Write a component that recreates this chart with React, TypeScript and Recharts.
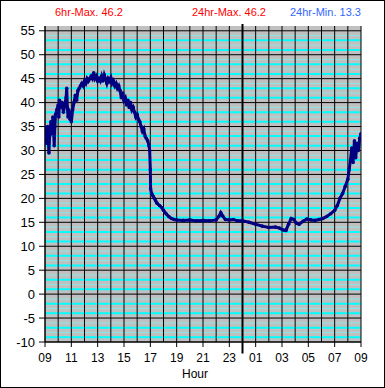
import React from 'react'
import {
    LineChart,
    Line,
    XAxis,
    YAxis,
    CartesianGrid,
    ReferenceLine,
} from 'recharts'

// hours since 09:00
const hours = [
    0, 0.05, 0.1, 0.15, 0.2, 0.25, 0.3, 0.35, 0.4, 0.45, 0.5, 0.55, 0.6, 0.65, 0.7, 0.75, 0.8, 0.9,
    1.0, 1.05, 1.1, 1.2, 1.3, 1.4, 1.5, 1.6, 1.65, 1.7, 1.75, 1.8, 1.9, 1.95, 2.0, 2.1, 2.2, 2.3,
    2.4, 2.5, 2.6, 2.7, 2.8, 2.9, 3.0, 3.1, 3.2, 3.3, 3.4, 3.5, 3.6, 3.7, 3.8, 3.9, 4.0, 4.1, 4.2,
    4.3, 4.4, 4.5, 4.6, 4.7, 4.8, 4.9, 5.0, 5.1, 5.2, 5.3, 5.4, 5.5, 5.6, 5.7, 5.8, 5.9, 6.0, 6.1,
    6.2, 6.3, 6.4, 6.5, 6.6, 6.7, 6.8, 6.9, 7.0, 7.1, 7.2, 7.3, 7.4, 7.5, 7.6, 7.7, 7.8, 7.9, 7.95,
    8.0, 8.02, 8.1, 8.2, 8.3, 8.4, 8.5, 8.7, 8.9, 9.0, 9.2, 9.4, 9.6, 9.8, 10.0, 10.5, 11.0, 11.5,
    12.0, 12.5, 13.0, 13.2, 13.35, 13.5, 13.7, 14.0, 14.3, 14.6, 15.0, 15.5, 16.0, 16.5, 17.0, 17.5,
    17.8, 18.1, 18.3, 18.5, 18.7, 18.9, 19.1, 19.3, 19.6, 19.9, 20.2, 20.5, 20.8, 21.1, 21.4, 21.7,
    22.0, 22.2, 22.4, 22.6, 22.8, 23.0, 23.1, 23.2, 23.3, 23.4, 23.5, 23.6, 23.7, 23.8, 23.9, 24.0,
]

const temps = [
    33.0, 34.8, 31.5, 33.5, 35.0, 32.0, 29.5, 33.0, 34.5, 36.0, 33.5, 35.5, 37.0, 34.0, 31.0, 35.0, 37.5, 38.5,
    39.5, 37.0, 40.5, 39.0, 40.0, 38.0, 39.5, 41.0, 43.0, 39.0, 37.0, 38.5, 36.5, 38.0, 36.0, 38.5, 40.0, 41.5,
    40.5, 42.5, 43.0, 43.5, 44.0, 43.5, 44.5, 44.0, 45.0, 44.5, 45.0, 45.5, 45.0, 46.2, 45.0, 45.5, 44.5, 45.0, 44.5,
    45.5, 44.5, 45.8, 45.0, 44.0, 45.0, 44.5, 45.2, 44.0, 44.5, 43.5, 44.0, 43.0, 43.5, 42.5, 41.0, 42.0, 40.5, 41.0,
    39.5, 40.5, 39.0, 40.0, 38.5, 39.0, 38.0, 37.0, 37.5, 36.5, 36.0, 35.0, 34.0, 34.5, 33.0, 32.5, 32.0, 31.0, 30.0,
    26.0, 22.0, 21.0, 20.5, 20.0, 19.5, 19.0, 18.5, 18.0, 17.5, 16.8, 16.2, 15.8, 15.6, 15.5, 15.4, 15.5, 15.3,
    15.4, 15.3, 15.5, 16.2, 17.0, 16.3, 15.6, 15.5, 15.6, 15.3, 15.3, 15.0, 14.6, 14.2, 13.9, 14.0,
    13.8, 13.4, 13.3, 14.6, 15.8, 15.6, 14.8, 14.6, 15.2, 15.7, 15.5, 15.4, 15.6, 15.8, 16.2, 16.8,
    17.5, 18.5, 20.0, 21.0, 22.5, 24.0, 26.0, 28.0, 30.5, 27.5, 32.0, 28.5, 31.5, 30.0, 32.5, 33.5,
]

const hourTicks = [0, 2, 4, 6, 8, 10, 12, 14, 16, 18, 20, 22, 24]
const hourLabels = ['09', '11', '13', '15', '17', '19', '21', '23', '01', '03', '05', '07', '09']
const gridHours = Array.from({ length: 25 }, (_, i) => i)
const tempTicks = [-10, -5, 0, 5, 10, 15, 20, 25, 30, 35, 40, 45, 50, 55]
const Y_MAX = 56
const brightMinor = tempTicks.flatMap((t) => [t + 1, t + 3]).filter((v) => v < Y_MAX)
const paleMinor = tempTicks.flatMap((t) => [t + 2, t + 4]).filter((v) => v < Y_MAX)
const MIDNIGHT = 15

const data = hours.map((h, i) => ({ h, t: temps[i] }))

const font = '"Liberation Sans", Arial, sans-serif'

export default function App() {
    return (
        <div style={{ position: 'relative', width: 385, height: 388, background: '#fff', fontFamily: font }}>
            <style>{'body{margin:0}'}</style>
            <LineChart width={385} height={388} data={data} margin={{ top: 26, right: 24, bottom: 16, left: 5 }}>
                <CartesianGrid
                    horizontalValues={paleMinor}
                    vertical={false}
                    stroke="#8ee6e6"
                    strokeWidth={1}
                    fill="#c0c0c0"
                    fillOpacity={1}
                />
                <CartesianGrid horizontalValues={brightMinor} vertical={false} stroke="#00ffff" strokeWidth={2} />
                <CartesianGrid horizontalValues={tempTicks} verticalValues={gridHours} stroke="#000" strokeWidth={1} />
                <XAxis
                    type="number"
                    dataKey="h"
                    domain={[0, 24]}
                    ticks={hourTicks}
                    tickFormatter={(v: number) => hourLabels[hourTicks.indexOf(v)]}
                    axisLine={{ stroke: '#000' }}
                    tickLine={{ stroke: '#000' }}
                    tickSize={5}
                    tickMargin={6}
                    height={30}
                    tick={{ fill: '#000', fontSize: 12, fontFamily: font }}
                    interval={0}
                    allowDataOverflow
                />
                <YAxis
                    type="number"
                    domain={[-10, Y_MAX]}
                    ticks={tempTicks}
                    width={40}
                    axisLine={{ stroke: '#000' }}
                    tickLine={{ stroke: '#000' }}
                    tickSize={6}
                    tickMargin={4}
                    tick={{ fill: '#000', fontSize: 13, fontFamily: font }}
                    interval={0}
                    allowDataOverflow
                />
                <ReferenceLine
                    segment={[{ x: MIDNIGHT, y: 56.4 }, { x: MIDNIGHT, y: -12.4 }]}
                    stroke="#000"
                    strokeWidth={2}
                    ifOverflow="visible"
                />
                <Line
                    type="linear"
                    dataKey="t"
                    stroke="#000080"
                    strokeWidth={3}
                    dot={{ r: 1.8, fill: '#000080', stroke: 'none' }}
                    isAnimationActive={false}
                />
            </LineChart>
            <div style={{ position: 'absolute', left: 55, top: 6, fontSize: 11, color: '#ff0000' }}>6hr-Max. 46.2</div>
            <div style={{ position: 'absolute', left: 192, top: 6, fontSize: 11, color: '#ff0000' }}>24hr-Max. 46.2</div>
            <div style={{ position: 'absolute', left: 290, top: 6, fontSize: 11, color: '#3366ff' }}>24hr-Min. 13.3</div>
            <div style={{ position: 'absolute', left: 182, top: 367, fontSize: 12, color: '#000' }}>Hour</div>
            <div style={{ position: 'absolute', inset: 0, border: '1px solid #000', pointerEvents: 'none' }} />
        </div>
    )
}
